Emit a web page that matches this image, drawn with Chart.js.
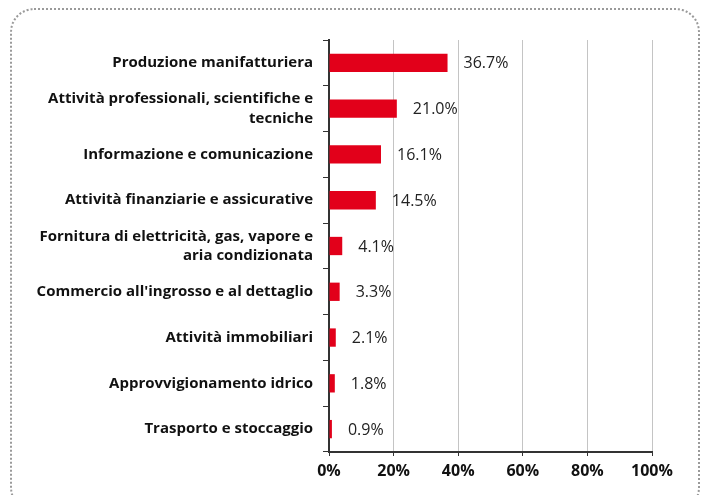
<!DOCTYPE html>
<html>
<head>
<meta charset="utf-8">
<script src="https://cdn.jsdelivr.net/npm/chart.js@4"></script>
<style>
  body { margin: 0; background: #fff; }
  #wrap { position: relative; width: 701px; height: 495px; }
  #frame {
    position: absolute; left: 10px; top: 8px; width: 686px; height: 500px;
    border: 2px dotted #9a9a9a; border-radius: 24px; pointer-events: none;
  }
</style>
</head>
<body>
<div id="wrap">
  <canvas id="graphCanvas" width="701" height="495"></canvas>
  <div id="frame"></div>
</div>
<script>
const categories = [
    'Produzione manifatturiera',
    ['Attività professionali, scientifiche e', 'tecniche'],
    'Informazione e comunicazione',
    'Attività finanziarie e assicurative',
    ['Fornitura di elettricità, gas, vapore e', 'aria condizionata'],
    "Commercio all'ingrosso e al dettaglio",
    'Attività immobiliari',
    'Approvvigionamento idrico',
    'Trasporto e stoccaggio'
];
const shares = [36.7, 21.0, 16.1, 14.5, 4.1, 3.3, 2.1, 1.8, 0.9];
const xTicks = [0, 20, 40, 60, 80, 100];

const ctx = document.getElementById('graphCanvas').getContext('2d');
const fontName = "'Open Sans', 'Noto Sans', sans-serif";

// etichette dei valori a destra delle barre
const valueLabels = {
    id: 'valueLabels',
    afterDatasetsDraw(chart) {
        const c = chart.ctx;
        const meta = chart.getDatasetMeta(0);
        c.save();
        c.font = '16px ' + fontName;
        c.fillStyle = '#222';
        c.textBaseline = 'middle';
        meta.data.forEach((bar, i) => {
            c.fillText(shares[i].toFixed(1) + '%', bar.x + 16, bar.y + 1);
        });
        c.restore();
    }
};

new Chart(ctx, {
    type: 'bar',
    data: {
        labels: categories,
        datasets: [{
            data: shares,
            backgroundColor: '#e2001a',
            barPercentage: 0.4,
            categoryPercentage: 1
        }]
    },
    options: {
        indexAxis: 'y',
        responsive: false,
        animation: false,
        layout: { padding: { top: 40, right: 49, left: 0, bottom: 0 } },
        plugins: { legend: { display: false }, tooltip: { enabled: false } },
        scales: {
            x: {
                min: 0,
                max: 100,
                afterBuildTicks: (s) => { s.ticks = xTicks.map(v => ({ value: v })); },
                afterFit: (s) => { s.height = 43; },
                border: { color: '#333', width: 2 },
                grid: {
                    color: '#c4c4c4',
                    borderDash: [1, 2],
                    tickColor: '#333',
                    tickBorderDash: [],
                    tickLength: 4
                },
                ticks: {
                    callback: (v) => v + '%',
                    color: '#111',
                    font: { family: fontName, size: 16, weight: 'bold' },
                    padding: 6,
                    maxRotation: 0
                }
            },
            y: {
                afterFit: (s) => { s.width = 329; },
                border: { color: '#333', width: 2 },
                grid: {
                    offset: true,
                    drawOnChartArea: false,
                    color: '#333',
                    tickLength: 6
                },
                ticks: {
                    color: '#111',
                    font: { family: fontName, size: 15, weight: 'bold', lineHeight: 1.3 },
                    padding: 10
                }
            }
        }
    },
    plugins: [valueLabels]
});
</script>
</body>
</html>
